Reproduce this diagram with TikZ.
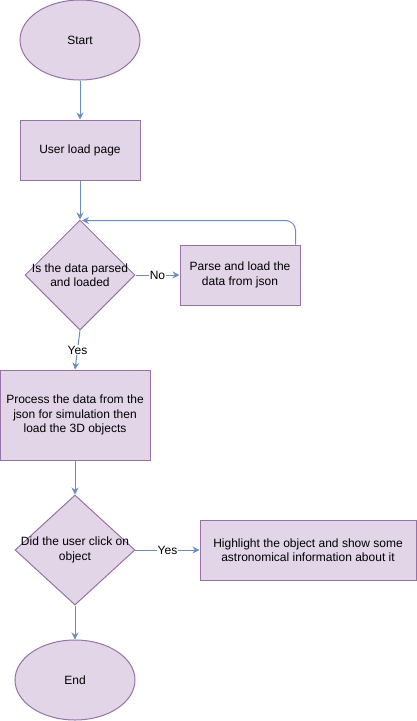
\documentclass[tikz,border=0pt]{standalone}
\usepackage{fontspec}
\setmainfont{Liberation Sans}
\usetikzlibrary{shapes.geometric,arrows.meta}
\definecolor{boxfill}{HTML}{E1D5E7}
\definecolor{boxline}{HTML}{9673A6}
\definecolor{flowline}{HTML}{6C8EBF}
\begin{document}
\begin{tikzpicture}[
    x=1pt, y=-1pt,
    font=\fontsize{12}{14.4}\selectfont,
    box/.style={draw=boxline, fill=boxfill, line width=1pt, rectangle, align=center, inner sep=2pt},
    terminal/.style={box, ellipse, minimum width=120pt, minimum height=80pt},
    process/.style={box, minimum width=#1},
    decision/.style={box, diamond, inner sep=0pt, minimum width=#1, minimum height=110pt},
    flow/.style={draw=flowline, line width=1pt, -{Stealth[length=7pt,width=7pt]}},
    lbl/.style={fill=white, inner sep=1pt, text=black}
  ]
  \useasboundingbox (0,0) rectangle (416,721);

  % Main column
  \node[terminal] (start) at (80,40) {Start};
  \node[process=120pt, minimum height=60pt] (load) at (80,150) {User load page};
  \node[decision=110pt, label={[align=center]center:Is the data parsed\\and loaded}] (parsed) at (80,275) {};
  \node[process=120pt, minimum height=60pt] (parse) at (240,275) {Parse and load the\\data from json};
  \node[process=150pt, minimum height=90pt] (prep) at (75,415) {Process the data from the\\json for simulation then\\load the 3D objects};
  \node[decision=120pt, label={[align=center]center:Did the user click on\\object}] (click) at (75,550) {};
  \node[process=216pt, minimum height=60pt] (highlight) at (308,550) {Highlight the object and show some\\astronomical information about it};
  \node[terminal] (end) at (75,680) {End};

  % Connectors
  \draw[flow] (start) -- (load);
  \draw[flow] (load) -- (parsed);
  \draw[flow] (parsed) -- node[lbl] {No} (parse);
  \draw[flow, rounded corners=10pt] ([xshift=-5pt]parse.north east) |- ([xshift=2pt,yshift=-1pt]parsed.north);
  \draw[flow] (parsed.south) -- node[lbl, pos=0.5] {Yes} (prep.north);
  \draw[flow] (prep) -- (click);
  \draw[flow] (click) -- node[lbl, pos=0.5] {Yes} (highlight);
  \draw[flow] (click) -- (end);

  \end{tikzpicture}
\end{document}
